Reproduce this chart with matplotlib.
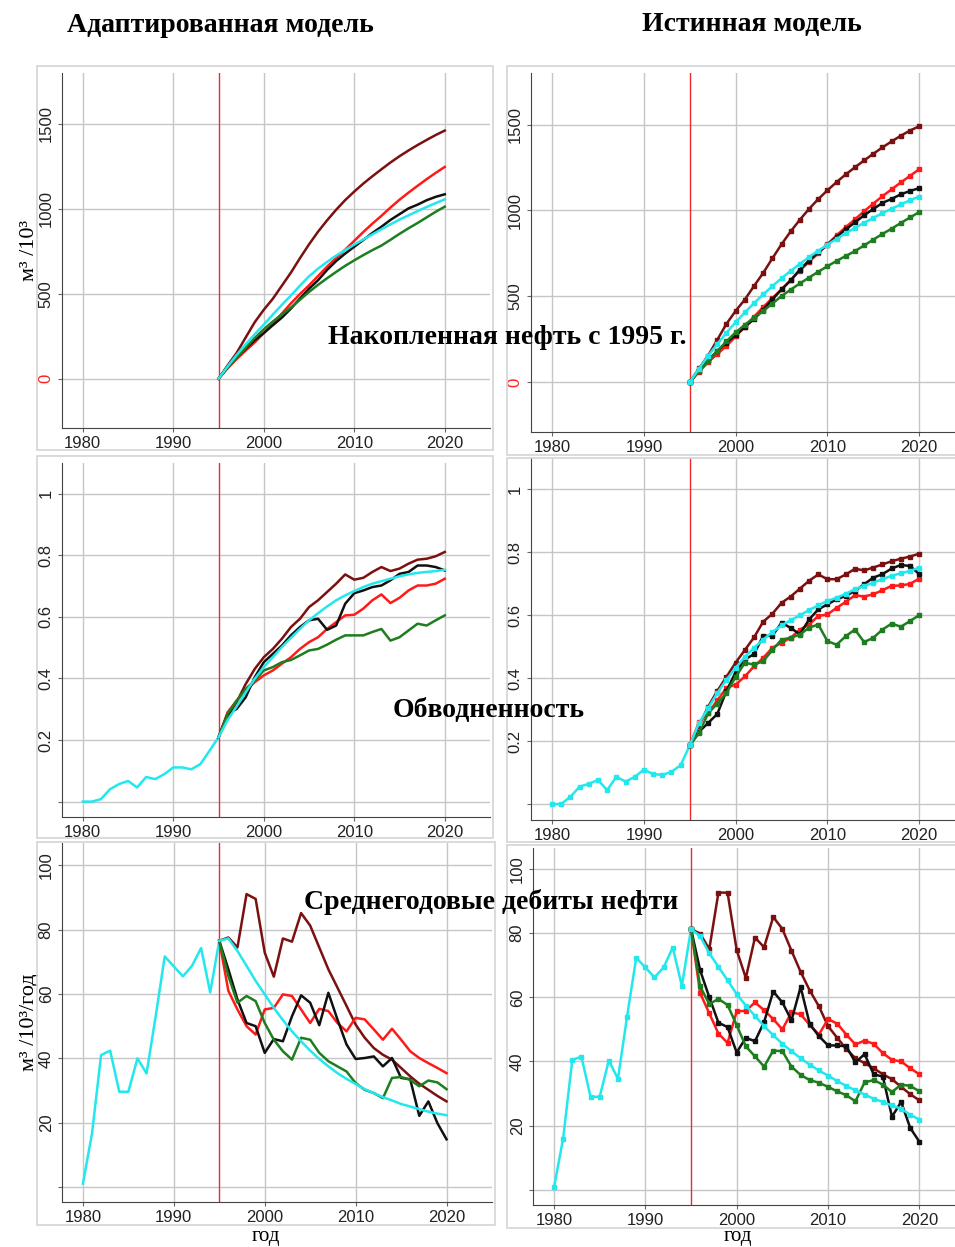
import numpy as np
import matplotlib.pyplot as plt
from matplotlib.patches import Rectangle

plt.rcParams['font.family'] = ['Liberation Sans', 'DejaVu Sans']

hist_years = np.arange(1980, 1996)
fc_years = np.arange(1995, 2021)
series_colors = ['#7b1010', '#ff1a1a', '#111111', '#1e7d1e', '#22e8ee']

# --- адаптированная модель ---
cum_adapt = [
    [0, 78, 152, 243, 333, 406, 471, 548, 625, 710, 791, 866, 933, 995, 1052, 1102, 1149, 1192, 1233, 1273, 1310, 1344, 1376, 1406, 1435, 1461],
    [0, 61, 116, 166, 214, 269, 325, 384, 444, 499, 550, 605, 660, 711, 760, 812, 864, 913, 959, 1008, 1054, 1096, 1136, 1175, 1212, 1247],
    [0, 68, 126, 177, 227, 269, 315, 360, 413, 473, 530, 580, 641, 693, 737, 777, 817, 858, 895, 935, 969, 1003, 1025, 1051, 1071, 1086],
    [0, 66, 123, 182, 240, 291, 337, 379, 419, 465, 511, 553, 592, 629, 665, 697, 728, 757, 784, 818, 853, 886, 917, 950, 983, 1013],
    [0, 72, 140, 203, 262, 318, 378, 435, 490, 548, 603, 648, 688, 725, 758, 790, 820, 850, 880, 909, 937, 962, 987, 1011, 1034, 1056],
]
wc_hist_adapt = [0, 0, 0.008, 0.04, 0.057, 0.067, 0.046, 0.08, 0.073, 0.089, 0.111, 0.111, 0.105, 0.122, 0.165, 0.209]
wc_adapt = [
    [0.209, 0.274, 0.323, 0.382, 0.431, 0.469, 0.496, 0.529, 0.567, 0.594, 0.632, 0.654, 0.681, 0.708, 0.738, 0.721, 0.727, 0.746, 0.762, 0.749, 0.757, 0.773, 0.786, 0.789, 0.797, 0.811],
    [0.209, 0.29, 0.328, 0.361, 0.388, 0.41, 0.426, 0.448, 0.469, 0.496, 0.518, 0.534, 0.561, 0.583, 0.605, 0.607, 0.627, 0.654, 0.673, 0.645, 0.662, 0.686, 0.702, 0.702, 0.708, 0.724],
    [0.209, 0.285, 0.301, 0.339, 0.404, 0.453, 0.48, 0.507, 0.54, 0.567, 0.589, 0.594, 0.558, 0.572, 0.643, 0.677, 0.686, 0.697, 0.702, 0.719, 0.74, 0.746, 0.767, 0.767, 0.762, 0.751],
    [0.209, 0.285, 0.328, 0.366, 0.393, 0.426, 0.437, 0.453, 0.46, 0.475, 0.491, 0.496, 0.51, 0.526, 0.54, 0.54, 0.54, 0.551, 0.561, 0.523, 0.534, 0.556, 0.578, 0.572, 0.589, 0.605],
    [0.209, 0.265, 0.309, 0.355, 0.399, 0.437, 0.469, 0.502, 0.532, 0.561, 0.589, 0.612, 0.634, 0.654, 0.67, 0.684, 0.697, 0.708, 0.716, 0.724, 0.732, 0.738, 0.743, 0.746, 0.749, 0.753],
]
rate_hist_adapt = [1, 16.6, 41, 42.4, 29.6, 29.6, 40, 35.3, 53, 71.7, 68.6, 65.5, 68.8, 74.3, 60.5, 76.6]
rate_adapt = [
    [76.6, 77.6, 74.5, 91.1, 89.6, 72.9, 65.4, 77.3, 76.3, 85.2, 81.3, 74.5, 67.7, 62, 56.3, 50.5, 46.4, 43.2, 41.1, 39.6, 37, 34.4, 32.1, 30.2, 28.3, 26.6],
    [76.6, 61, 55.2, 50, 47.4, 55.2, 55.7, 59.9, 59.4, 55.2, 51, 55.4, 54.7, 51, 48.4, 52.6, 52.1, 49, 45.8, 49.2, 45.8, 42.2, 40.1, 38.5, 37, 35.4],
    [76.6, 67.7, 58.3, 51, 50, 41.7, 46, 45.3, 53.1, 59.6, 57.3, 50.3, 60.4, 52.1, 44.3, 39.8, 40.1, 40.6, 37.5, 40.1, 33.9, 33.5, 22.1, 26.6, 19.8, 14.8],
    [76.6, 65.6, 57.3, 59.4, 57.8, 51, 45.8, 42.2, 39.6, 46.4, 45.8, 41.7, 39.1, 37.5, 35.9, 32.3, 30.2, 29.2, 27.6, 33.9, 34.2, 33.3, 31.3, 33.1, 32.5, 30.4],
    [76.6, 77.3, 73.4, 68.8, 64.1, 59.9, 55.7, 51.9, 48.4, 45.3, 42.4, 39.8, 37.5, 35.4, 33.6, 32, 30.4, 29.2, 27.9, 26.9, 25.8, 25, 24.2, 23.4, 22.8, 22.3],
]

# --- истинная модель ---
cum_true = [
    [0, 80, 155, 247, 340, 415, 481, 560, 636, 721, 803, 878, 946, 1009, 1066, 1117, 1165, 1210, 1251, 1291, 1330, 1367, 1402, 1435, 1465, 1490],
    [0, 61, 116, 165, 211, 266, 322, 381, 437, 490, 540, 595, 650, 701, 750, 803, 855, 903, 948, 995, 1040, 1083, 1123, 1163, 1201, 1240],
    [0, 68, 128, 181, 231, 274, 321, 368, 420, 482, 540, 593, 656, 708, 756, 801, 846, 890, 930, 972, 1008, 1044, 1067, 1094, 1113, 1130],
    [0, 63, 121, 181, 238, 290, 334, 376, 414, 458, 501, 539, 575, 609, 643, 675, 706, 735, 763, 796, 830, 863, 894, 927, 959, 990],
    [0, 79, 153, 222, 288, 349, 406, 460, 511, 559, 605, 648, 689, 728, 765, 801, 835, 867, 898, 928, 956, 984, 1010, 1035, 1059, 1081],
]
wc_hist_true = [0, 0.001, 0.024, 0.056, 0.065, 0.077, 0.045, 0.087, 0.072, 0.087, 0.11, 0.096, 0.093, 0.103, 0.124, 0.187]
wc_true = [
    [0.187, 0.25, 0.31, 0.36, 0.405, 0.45, 0.49, 0.53, 0.58, 0.605, 0.64, 0.66, 0.685, 0.71, 0.73, 0.715, 0.715, 0.73, 0.748, 0.743, 0.752, 0.762, 0.772, 0.78, 0.787, 0.796],
    [0.187, 0.26, 0.29, 0.33, 0.37, 0.38, 0.406, 0.438, 0.465, 0.497, 0.513, 0.529, 0.555, 0.571, 0.598, 0.603, 0.624, 0.643, 0.664, 0.66, 0.667, 0.68, 0.694, 0.695, 0.7, 0.717],
    [0.187, 0.23, 0.258, 0.287, 0.36, 0.42, 0.46, 0.477, 0.535, 0.535, 0.577, 0.56, 0.54, 0.587, 0.619, 0.635, 0.651, 0.662, 0.678, 0.699, 0.72, 0.731, 0.749, 0.76, 0.757, 0.731],
    [0.187, 0.226, 0.289, 0.32, 0.353, 0.405, 0.449, 0.444, 0.454, 0.49, 0.523, 0.529, 0.539, 0.561, 0.571, 0.518, 0.507, 0.534, 0.555, 0.515, 0.529, 0.555, 0.574, 0.564, 0.582, 0.601],
    [0.187, 0.257, 0.305, 0.353, 0.396, 0.433, 0.468, 0.497, 0.523, 0.547, 0.568, 0.585, 0.6, 0.617, 0.632, 0.646, 0.656, 0.669, 0.683, 0.694, 0.704, 0.715, 0.726, 0.734, 0.741, 0.752],
]
rate_hist_true = [0.8, 16, 40.5, 41.5, 29, 29, 40.3, 34.6, 54, 72.3, 69.3, 66.2, 69.3, 75.5, 63.5, 81.3]
rate_true = [
    [81.3, 79.8, 75, 92.6, 92.6, 74.7, 66, 78.6, 75.6, 85, 81.3, 74.5, 67.9, 62.1, 57.2, 51, 47.4, 43.9, 41, 39.5, 37.9, 36, 34.5, 32.1, 29.8, 27.9],
    [81.3, 61.3, 55, 48.7, 45.8, 55.6, 55.8, 58.4, 56, 53.2, 50, 55.3, 54.7, 51.4, 48.4, 53.2, 51.8, 48.4, 45.3, 46.5, 45.5, 42.6, 40.5, 40, 37.9, 36],
    [81.3, 68.4, 60, 52.1, 50.7, 42.8, 47.4, 46.3, 52.3, 61.8, 58.4, 52.8, 63.2, 51.6, 47.9, 45, 45, 44.7, 39.7, 42.3, 36, 35.3, 22.8, 27.4, 19.3, 15],
    [81.3, 63.4, 57.9, 59.5, 57.6, 51.3, 44.7, 41.6, 38.4, 43.4, 43.2, 38.4, 35.8, 34.2, 33.4, 32.1, 30.7, 29.5, 27.6, 33.5, 34.2, 32.8, 30.5, 32.8, 32.4, 30.7],
    [81.3, 79, 73.7, 69.5, 65.3, 61, 57.4, 54.2, 51, 48.2, 45.5, 43.2, 41, 39, 37.2, 35.6, 33.9, 32.4, 31, 29.7, 28.4, 27.4, 26.3, 25.3, 23.4, 21.9],
]

W, H = 955, 1247
fig = plt.figure(figsize=(W / 100, H / 100), dpi=100)


def px_axes(x0, x1, y_top, y_bot):
    return fig.add_axes([x0 / W, 1 - y_bot / H, (x1 - x0) / W, (y_bot - y_top) / H])


def frame(x0, x1, y_top, y_bot):
    fig.add_artist(Rectangle((x0 / W, 1 - y_bot / H), (x1 - x0) / W, (y_bot - y_top) / H,
                             transform=fig.transFigure, fill=False, ec='#d4d4d4', lw=1.2))


def style(ax, xlim, ylim, yticks, ylabels, red_zero=False):
    ax.set_xlim(xlim)
    ax.set_ylim(ylim)
    ax.set_xticks([1980, 1990, 2000, 2010, 2020])
    ax.set_yticks(yticks)
    ax.set_yticklabels(ylabels)
    ax.grid(color='#c6c6c6', lw=1)
    ax.set_axisbelow(True)
    for s in ['top', 'right']:
        ax.spines[s].set_visible(False)
    for s in ['left', 'bottom']:
        ax.spines[s].set_color('#444444')
    ax.tick_params(labelsize=12, length=3, color='#666666', labelcolor='#222222', pad=3)
    for lab in ax.get_yticklabels():
        lab.set_rotation(90)
        lab.set_va('center')
    if red_zero:
        ax.get_yticklabels()[0].set_color('#ff2020')
    ax.axvline(1995, color='#ee2a2a', lw=1, zorder=1)


def draw(ax, hist, fc, markers):
    kw = dict(lw=1.8, marker='s' if markers else None, ms=3)
    if hist is not None:
        ax.plot(hist_years, hist, color=series_colors[4], **kw)
    for vals, c in zip(fc, series_colors):
        ax.plot(fc_years, vals, color=c, **kw)


# frames around panels
frame(37, 493, 66, 450)
frame(37, 493, 456, 838)
frame(37, 495, 842, 1225)
frame(507, 956, 66, 455)
frame(507, 956, 458, 842)
frame(507, 956, 845, 1228)

xl_left = (1977.7, 2025.0)
xl_right = (1977.7, 2023.9)

ax = px_axes(62, 490, 73, 428)
style(ax, xl_left, (-290, 1800), [0, 500, 1000, 1500], ['0', '500', '1000', '1500'], red_zero=True)
draw(ax, None, cum_adapt, False)
ax.set_ylabel('м³ /10³', family='Liberation Serif', fontsize=16, labelpad=0)

ax = px_axes(531, 955, 73, 432)
style(ax, xl_right, (-290, 1800), [0, 500, 1000, 1500], ['0', '500', '1000', '1500'], red_zero=True)
draw(ax, None, cum_true, True)

wc_ticks = [0, 0.2, 0.4, 0.6, 0.8, 1]
wc_labels = ['', '0.2', '0.4', '0.6', '0.8', '1']
ax = px_axes(62, 490, 463, 817)
style(ax, xl_left, (-0.05, 1.1), wc_ticks, wc_labels)
draw(ax, wc_hist_adapt, wc_adapt, False)

ax = px_axes(531, 955, 458, 820)
style(ax, xl_right, (-0.05, 1.1), wc_ticks, wc_labels)
draw(ax, wc_hist_true, wc_true, True)

rate_ticks = [0, 20, 40, 60, 80, 100]
rate_labels = ['', '20', '40', '60', '80', '100']
ax = px_axes(62, 492, 843, 1202)
style(ax, xl_left, (-4.7, 107), rate_ticks, rate_labels)
draw(ax, rate_hist_adapt, rate_adapt, False)
ax.set_ylabel('м³ /10³/год', family='Liberation Serif', fontsize=16, labelpad=0)

ax = px_axes(533, 955, 848, 1205)
style(ax, xl_right, (-4.7, 106.5), rate_ticks, rate_labels)
draw(ax, rate_hist_true, rate_true, True)

xlab_kw = dict(family='Liberation Serif', fontsize=15, ha='center', va='baseline')
fig.text(266 / W, 1 - 1241 / H, 'год', **xlab_kw)
fig.text(738 / W, 1 - 1241 / H, 'год', **xlab_kw)

title_kw = dict(family='Liberation Serif', fontweight='bold', fontsize=20, ha='center', va='center')
fig.text(220 / W, 1 - 25 / H, 'Адаптированная модель', **title_kw)
fig.text(752 / W, 1 - 25 / H, 'Истинная модель', **title_kw)
fig.text(507 / W, 1 - 338 / H, 'Накопленная нефть с 1995 г.', zorder=10, **title_kw)
fig.text(489 / W, 1 - 710 / H, 'Обводненность', zorder=10, **title_kw)
fig.text(491 / W, 1 - 902 / H, 'Среднегодовые дебиты нефти', zorder=10, **title_kw)

fig.savefig('out.png', dpi=100)
